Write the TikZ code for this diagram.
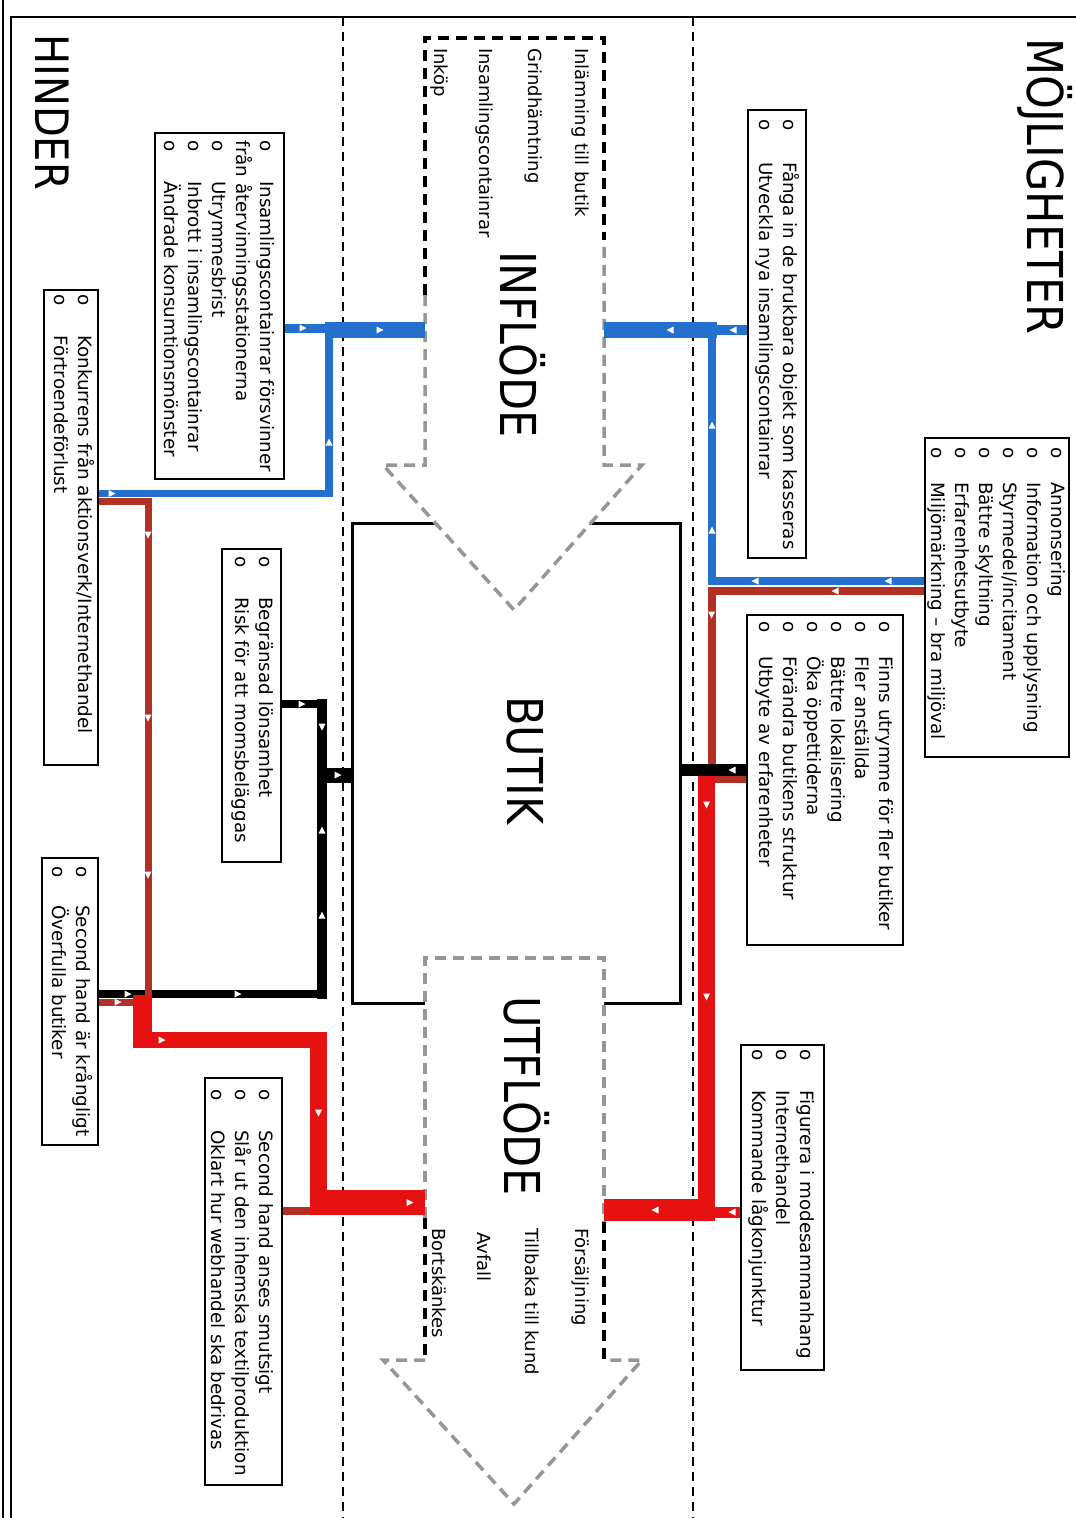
\documentclass[tikz,border=0pt]{standalone}
\usepackage{fontspec}
\setmainfont{DejaVu Sans}
\usetikzlibrary{calc}
\definecolor{cblue}{RGB}{35,112,205}
\definecolor{cbrown}{RGB}{178,48,36}
\definecolor{cred}{RGB}{230,18,18}
\definecolor{cgray}{RGB}{150,150,150}
\newcommand{\lst}[2]{\fontsize{18.3}{24}\selectfont\begin{tabular}{@{}l@{\hspace{#1pt}}l@{}}#2\end{tabular}}
\newcommand{\mkR}[2]{\fill[white] (#1,#2) ++(3.5,0) -- ++(-7,-3.5) -- ++(0,7) -- cycle;}
\newcommand{\mkL}[2]{\fill[white] (#1,#2) ++(-3.5,0) -- ++(7,-3.5) -- ++(0,7) -- cycle;}
\newcommand{\mkD}[2]{\fill[white] (#1,#2) ++(0,3.5) -- ++(-3.5,-7) -- ++(7,0) -- cycle;}
\newcommand{\mkU}[2]{\fill[white] (#1,#2) ++(0,-3.5) -- ++(-3.5,7) -- ++(7,0) -- cycle;}
\begin{document}
\begin{tikzpicture}[x=1pt,y=-1pt,
 boxframe/.style={draw=black,line width=1.6pt,fill=white,inner sep=0pt,rectangle},
 lsttext/.style={rotate=-90,anchor=north west,inner sep=0pt},
 rtext/.style={rotate=-90,anchor=west,inner sep=0pt,font=\fontsize{18}{22}\selectfont},
 head/.style={rotate=-90,anchor=base west,inner sep=0pt,font=\fontsize{43}{50}\selectfont},
 dgray/.style={draw=cgray,line width=3.5pt,dash pattern=on 11pt off 7pt},
 dblack/.style={draw=black,line width=3.5pt,dash pattern=on 11pt off 7pt},
 sepline/.style={draw=black,line width=1.2pt,dash pattern=on 9pt off 6pt},
 shaft/.style={inner sep=0pt,minimum width=179pt}]

\fill[white] (0,0) rectangle (1076,1518);
\useasboundingbox (0,0) rectangle (1076,1518);

% frame and separators
\draw[line width=1.5pt] (3,0) -- (3,1518);
\draw[line width=2.5pt] (11,1518) -- (11,17) -- (1076,17);
\draw[sepline] (343,17) -- (343,1518);
\draw[sepline] (693,17) -- (693,1518);

% BUTIK box
\node[draw=black,line width=3pt,fill=white,inner sep=0pt,minimum width=328pt,minimum height=480pt] (butik) at (516,763) {};

% INFLODE arrow
\node[shaft,minimum height=427pt] (inflow) at (514.5,251.5) {};
\fill[white] (425,38) -- (425,465) -- (383,465) -- (514,610) -- (642,465) -- (604,465) -- (604,38) -- cycle;
\draw[dgray] (425,295) -- (425,465) -- (383,465) -- (514,610) -- (642,465) -- (604,465) -- (604,240);
\draw[dblack] (425,295) -- (425,38) -- (604,38) -- (604,240);

% UTFLODE arrow
\node[shaft,minimum height=402pt] (outflow) at (514.5,1159) {};
\fill[white] (425,958) -- (425,1360) -- (383,1360) -- (514,1504) -- (642,1360) -- (604,1360) -- (604,958) -- cycle;
\draw[dgray] (425,1218) -- (425,958) -- (604,958) -- (604,1222);
\draw[dgray] (425,1360) -- (383,1360) -- (514,1504) -- (642,1360) -- (604,1360);
\draw[dblack] (425,1218) -- (425,1360);
\draw[dblack] (604,1222) -- (604,1362);

% boxes
\node[boxframe,minimum width=58pt,minimum height=448pt] (mo1) at (777,334) {};
\node[boxframe,minimum width=144pt,minimum height=319pt] (mo2) at (997,597.5) {};
\node[boxframe,minimum width=156pt,minimum height=330pt] (mo3) at (825,780) {};
\node[boxframe,minimum width=83pt,minimum height=325pt] (mo4) at (782.5,1207.5) {};
\node[boxframe,minimum width=129pt,minimum height=346pt] (hiA) at (219.5,306) {};
\node[boxframe,minimum width=54pt,minimum height=475pt] (hiB) at (71,527.5) {};
\node[boxframe,minimum width=59pt,minimum height=313pt] (hiC) at (251.5,705.5) {};
\node[boxframe,minimum width=56pt,minimum height=287pt] (hiD) at (70,1001.5) {};
\node[boxframe,minimum width=77pt,minimum height=407pt] (hiE) at (243.5,1281.5) {};

% right blue connectors
\coordinate (jr) at (712,330);
\draw[cblue,line width=16pt] (717,330) -- (inflow.east |- jr);
\draw[cblue,line width=10pt] (mo1.west |- jr) -- (712,330);
\draw[cblue,line width=8.5pt,line join=miter] (mo2.west |- 0,581) -- (712,581) -- (jr);

% right red connectors
\draw[cbrown,line width=8pt,line join=miter] (mo2.west |- 0,591) -- (711.5,591) -- (711.5,772);
\draw[cbrown,line width=7pt] (mo3.west |- 0,779) -- (710,779);
\draw[cred,line width=17pt] (706.5,770) -- (706.5,1221);
\draw[cred,line width=22pt] (715,1210) -- (outflow.east |- 0,1210);
\draw[cred,line width=11pt] (mo4.west |- 0,1212) -- (715,1212);
\draw[black,line width=12pt] (mo3.west |- 0,770) -- (butik.east |- 0,770);

% left blue connectors
\coordinate (jl) at (329,330);
\draw[cblue,line width=16pt] (325,330) -- (inflow.west |- jl);
\draw[cblue,line width=9pt] (hiA.east |- 0,328) -- (329,328);
\draw[cblue,line width=7.5pt,line join=miter] (hiB.east |- 0,493.5) -- (329,493.5) -- (jl);

% left black connectors
\draw[black,line width=10pt] (322,699) -- (322,999);
\draw[black,line width=8pt] (hiC.east |- 0,704) -- (327,704);
\draw[black,line width=8pt] (hiD.east |- 0,994) -- (327,994);
\draw[black,line width=15pt] (317,775) -- (butik.west |- 0,775);

% left brown / red connectors
\draw[cbrown,line width=7pt,line join=miter] (hiB.east |- 0,501) -- (148,501) -- (148,1000);
\draw[cbrown,line width=7pt] (hiD.east |- 0,1002) -- (143,1002);
\draw[cred,line width=19pt] (142.5,995) -- (142.5,1048);
\draw[cred,line width=16pt] (133,1040) -- (327,1040);
\draw[cred,line width=17pt] (318.5,1032) -- (318.5,1215);
\draw[cbrown,line width=8pt] (hiE.east |- 0,1211) -- (310,1211);
\draw[cred,line width=25pt] (310,1202.5) -- (outflow.west |- 0,1202.5);

% direction markers
\mkL{670}{330} \mkL{733}{330} \mkU{712}{425} \mkU{712}{530} \mkL{755}{581} \mkL{888}{581}
\mkL{835}{591} \mkD{711.5}{615} \mkD{706.5}{805} \mkD{706.5}{997} \mkL{655}{1210} \mkL{732}{1212}
\mkL{732}{770}
\mkR{303}{328} \mkR{380}{330} \mkU{329}{442} \mkR{112}{493.5}
\mkD{148}{535} \mkD{148}{718} \mkD{148}{875} \mkR{118}{1002}
\mkR{162}{1040} \mkD{318.5}{1113} \mkR{410}{1202.5}
\mkR{302}{704} \mkD{322}{727} \mkU{322}{830} \mkU{322}{915} \mkR{338}{775} \mkR{238}{994} \mkR{128}{994}

% headings
\node[head] (hMoj) at (1027,38) {\scalebox{1}[1.15]{MÖJLIGHETER}};
\node[head,font=\fontsize{40}{46}\selectfont] (hHin) at (35,34) {\scalebox{1}[1.15]{HINDER}};
\node[head] (hIn) at (500,251) {\scalebox{1}[1.15]{INFLÖDE}};
\node[head] (hBut) at (507,696) {\scalebox{1}[1.15]{BUTIK}};
\node[head] (hUt) at (504,996) {\scalebox{1}[1.15]{UTFLÖDE}};

% arrow labels
\node[rtext] (in1) at (580,48) {Inlämning till butik};
\node[rtext] (in2) at (533,48) {Grindhämtning};
\node[rtext] (in3) at (484,48) {Insamlingscontainrar};
\node[rtext] (in4) at (439,48) {Inköp};
\node[rtext] (ut1) at (580,1228) {Försäljning};
\node[rtext] (ut2) at (532,1228) {Tillbaka till kund};
\node[rtext] (ut3) at (484,1232) {Avfall};
\node[rtext] (ut4) at (439,1228) {Bortskänkes};

% list texts
\node[lsttext] (t1) at (800.8,119.4) {\lst{31.4}{o & Fånga in de brukbara objekt som kasseras\\ o & Utveckla nya insamlingscontainrar}};
\node[lsttext] (t2) at (1068.8,447.4) {\lst{23.4}{o & Annonsering\\ o & Information och upplysning\\ o & Styrmedel/incitament\\ o & Bättre skyltning\\ o & Erfarenhetsutbyte\\ o & Miljömärkning – bra miljöval}};
\node[lsttext] (t3) at (896.8,621.4) {\lst{23.4}{o & Finns utrymme för fler butiker\\ o & Fler anställda\\ o & Bättre lokalisering\\ o & Öka öppettiderna\\ o & Förändra butikens struktur\\ o & Utbyte av erfarenheter}};
\node[lsttext] (t4) at (817.8,1049.4) {\lst{29.4}{o & Figurera i modesammanhang\\ o & Internethandel\\ o & Kommande lågkonjunktur}};
\node[lsttext] (tA) at (277.8,140.4) {\lst{29.4}{o & Insamlingscontainrar försvinner\\ \multicolumn{2}{@{}l@{}}{från återvinningsstationerna}\\ o & Utrymmesbrist\\ o & Inbrott i insamlingscontainrar\\ o & Ändrade konsumtionsmönster}};
\node[lsttext] (tB) at (95.8,294.4) {\lst{29.4}{o & Konkurrens från aktionsverk/Internethandel\\ o & Förtroendeförlust}};
\node[lsttext] (tC) at (276.8,556.4) {\lst{29.4}{o & Begränsad lönsamhet\\ o & Risk för att momsbeläggas}};
\node[lsttext] (tD) at (93.8,866.4) {\lst{27.4}{o & Second hand är krångligt\\ o & Överfulla butiker}};
\node[lsttext] (tE) at (276.8,1089.4) {\lst{29.4}{o & Second hand anses smutsigt\\ o & Slår ut den inhemska textilproduktion\\ o & Oklart hur webhandel ska bedrivas}};
\end{tikzpicture}
\end{document}
